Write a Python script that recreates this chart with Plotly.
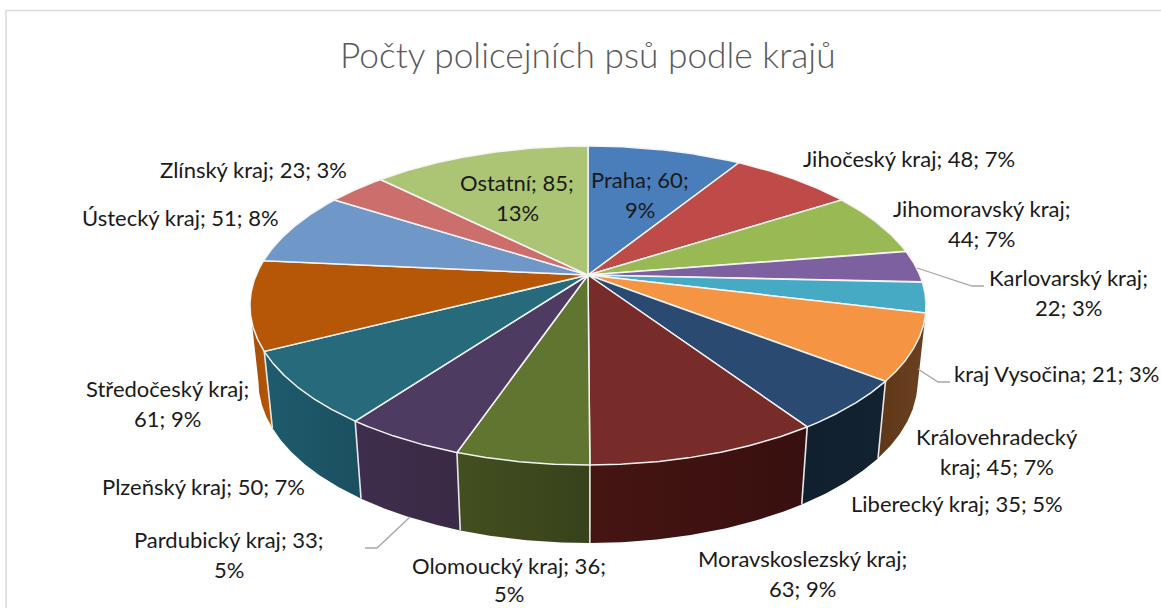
import numpy as np
import plotly.graph_objects as go

TITLE = "Počty policejních psů podle krajů"
regions = ["Praha", "Jihočeský kraj", "Jihomoravský kraj", "Karlovarský kraj", "kraj Vysočina",
           "Královehradecký kraj", "Liberecký kraj", "Moravskoslezský kraj", "Olomoucký kraj",
           "Pardubický kraj", "Plzeňský kraj", "Středočeský kraj", "Ústecký kraj", "Zlínský kraj", "Ostatní"]
counts = [60, 48, 44, 22, 21, 45, 35, 63, 36, 33, 50, 61, 51, 23, 85]
percents = [9, 7, 7, 3, 3, 7, 5, 9, 5, 5, 7, 9, 8, 3, 13]
label_lines = [
    ["Praha; 60;", "9%"], ["Jihočeský kraj; 48; 7%"], ["Jihomoravský kraj;", "44; 7%"],
    ["Karlovarský kraj;", "22; 3%"], ["kraj Vysočina; 21; 3%"], ["Královehradecký", "kraj; 45; 7%"],
    ["Liberecký kraj; 35; 5%"], ["Moravskoslezský kraj;", "63; 9%"], ["Olomoucký kraj; 36;", "5%"],
    ["Pardubický kraj; 33;", "5%"], ["Plzeňský kraj; 50; 7%"], ["Středočeský kraj;", "61; 9%"],
    ["Ústecký kraj; 51; 8%"], ["Zlínský kraj; 23; 3%"], ["Ostatní; 85;", "13%"],
]

# styles and layout (pixels)
top_colors = ["#4A7EBB", "#BE4B48", "#98B954", "#7D60A0", "#46AAC5", "#F59443", "#2A4A72", "#772C2A",
              "#5F7530", "#4D3B62", "#276A7C", "#B65708", "#6F98C9", "#CC6F6C", "#ABC574"]
wall_colors = {5: ("#5E3717", "#6B4020"), 6: ("#10202F", "#12222F"), 7: ("#451512", "#380F0F"),
               8: ("#434F1F", "#37421B"), 9: ("#3F2D4D", "#392A45"), 10: ("#1E5C6D", "#1B4F5F"),
               11: ("#A34E07", "#B65708")}
label_pos = [(640, 179), (909, 158), (981, 208), (1068, 277), (1056, 373), (997, 436), (957, 503),
             (802, 558), (509, 565), (229, 539), (203, 486), (167, 388), (180, 217), (253, 169), (517, 182)]
LINE_STEP = 30
LINE_STEP_OVERRIDE = {8: 28}  # keeps the last line inside the picture
leaders = [[(917, 268), (972, 286), (984, 286)], [(918, 369), (938, 382), (950, 382)],
           [(410, 517), (377, 548), (365, 548)]]
CX, CY, R, H, K = 588.0, 275.0, 331.8, 153.7, 0.191
DEPTH, DEPTH_FRONT, SHRINK = 75.5, 2.5, 0.975
T_RIGHT, T_LEFT = 104.0, 259.0


def top_pt(t):
    t = np.radians(t)
    u, v = np.sin(t), np.cos(t)
    w = 1 + K * v
    return CX + R * u / w, CY - H * v / w


def bot_pt(t):
    x, y = top_pt(t)
    return CX + (x - CX) * SHRINK, y + DEPTH - DEPTH_FRONT * np.cos(np.radians(t))


edges = np.concatenate([[0], np.cumsum(counts)]) / np.sum(counts) * 360.0
fig = go.Figure()

# side walls
for i, (a, b) in enumerate(zip(edges[:-1], edges[1:])):
    lo, hi = max(a, T_RIGHT), min(b, T_LEFT)
    if hi <= lo or i not in wall_colors:
        continue
    ts = np.linspace(lo, hi, 60)
    xt, yt = top_pt(ts)
    xb, yb = bot_pt(ts[::-1])
    c0, c1 = wall_colors[i]
    fig.add_trace(go.Scatter(x=np.r_[xt, xb, xt[:1]], y=np.r_[yt, yb, yt[:1]], mode="lines", fill="toself",
                             line=dict(width=0, color=c0), hoverinfo="skip", showlegend=False,
                             fillgradient=dict(type="horizontal", colorscale=[[0, c0], [1, c1]])))
# separators on the walls
for e in edges[1:-1]:
    if T_RIGHT < e < T_LEFT:
        x0, y0 = top_pt(e)
        x1, y1 = bot_pt(e)
        fig.add_trace(go.Scatter(x=[x0, x1], y=[y0, y1], mode="lines", line=dict(color="#E8E8E8", width=1.6),
                                 hoverinfo="skip", showlegend=False))
# top faces
for i, (a, b) in enumerate(zip(edges[:-1], edges[1:])):
    ts = np.linspace(a, b, 80)
    x, y = top_pt(ts)
    fig.add_trace(go.Scatter(x=np.r_[CX, x, CX], y=np.r_[CY, y, CY], mode="lines", fill="toself",
                             fillcolor=top_colors[i], line=dict(color="#F4F4F4", width=1.5),
                             name=regions[i], text=f"{regions[i]}; {counts[i]}; {percents[i]}%",
                             hoverinfo="text", showlegend=False))
# leader lines
for pts in leaders:
    fig.add_trace(go.Scatter(x=[p[0] for p in pts], y=[p[1] for p in pts], mode="lines",
                             line=dict(color="#A6A6A6", width=1.3), hoverinfo="skip", showlegend=False))

FONT = "Lato, Carlito, Calibri, sans-serif"
ann = [dict(x=588, y=54, text=TITLE, showarrow=False, xref="x", yref="y",
            font=dict(family=FONT, size=35.3, color="#595959", weight=300))]
for i, (lines, (px, py)) in enumerate(zip(label_lines, label_pos)):
    step = LINE_STEP_OVERRIDE.get(i, LINE_STEP)
    for j, s in enumerate(lines):
        ann.append(dict(x=px, y=py + j * step, text=s, showarrow=False, xref="x", yref="y",
                        font=dict(family=FONT, size=22, color="#1A1A1A")))

fig.update_layout(
    width=1161, height=608, margin=dict(l=0, r=0, t=0, b=0), paper_bgcolor="white", plot_bgcolor="white",
    xaxis=dict(range=[0, 1161], visible=False, fixedrange=True),
    yaxis=dict(range=[608, 0], visible=False, fixedrange=True),
    annotations=ann,
    shapes=[dict(type="line", x0=6, x1=6, y0=10, y1=608, line=dict(color="#D9D9D9", width=1.5)),
            dict(type="line", x0=6, x1=1161, y0=10.5, y1=10.5, line=dict(color="#D9D9D9", width=1.5))],
)
fig.write_html("out.html", post_script="document.body.style.margin='0';", config={"displayModeBar": False})
